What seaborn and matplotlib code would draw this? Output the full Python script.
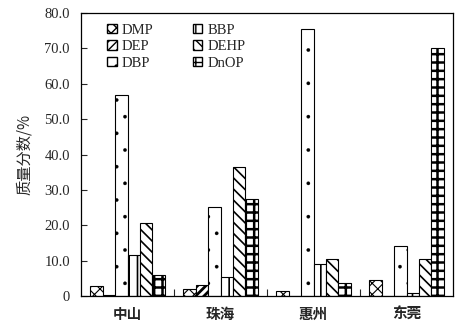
import matplotlib
matplotlib.use("Agg")
import matplotlib.pyplot as plt
import seaborn as sns
import pandas as pd
from matplotlib.patches import Patch
from matplotlib.ticker import FixedLocator

cities = ["中山", "珠海", "惠州", "东莞"]
compounds = ["DMP", "DEP", "DBP", "BBP", "DEHP", "DnOP"]
DMP = [2.8, 2.0, 1.3, 4.4]
DEP = [0.2, 3.0, 0.1, 0.1]
DBP = [56.7, 25.2, 75.5, 14.0]
BBP = [11.5, 5.3, 9.1, 0.8]
DEHP = [20.7, 36.5, 10.4, 10.6]
DnOP = [5.8, 27.5, 3.8, 70.2]
yticks = [0, 10, 20, 30, 40, 50, 60, 70, 80]
ytick_labels = ["0", "10.0", "20.0", "30.0", "40.0", "50.0", "60.0", "70.0", "80.0"]

series = {"DMP": DMP, "DEP": DEP, "DBP": DBP, "BBP": BBP, "DEHP": DEHP, "DnOP": DnOP}
rows = []
for comp in compounds:
    for c, v in zip(cities, series[comp]):
        rows.append({"city": c, "compound": comp, "value": v})
df = pd.DataFrame(rows)

sns.set_style("white")
plt.rcParams["font.family"] = ["Liberation Serif", "Noto Sans CJK SC", "DejaVu Sans"]

hatches = {"DMP": "xxx", "DEP": "////", "DBP": ".", "BBP": "||", "DEHP": "\\\\\\", "DnOP": "++"}
hlw = {"DMP": 0.8, "DEP": 2.0, "DBP": 0.2, "BBP": 1.2, "DEHP": 1.2, "DnOP": 1.8}

fig = plt.figure(figsize=(4.73, 3.25), dpi=100)
ax = fig.add_axes([81/473, 1-296/325, 372/473, 283/325])
sns.barplot(data=df, x="city", y="value", hue="compound", hue_order=compounds,
            order=cities, palette=["white"]*6, edgecolor="black", linewidth=0.8,
            width=0.8, ax=ax, legend=False)

for comp, cont in zip(compounds, ax.containers):
    for p in cont:
        p.set_hatch(hatches[comp])
        p.set_facecolor("white")
        p.set_edgecolor("black")
        try:
            p.set_hatch_linewidth(hlw[comp])
        except Exception:
            pass

ax.set_xlim(-0.5, 3.5)
ax.set_ylim(0, 80)
ax.set_yticks(yticks)
ax.set_yticklabels(ytick_labels, fontsize=10.5)
ax.set_xticks(range(4))
ax.set_xticklabels(cities, fontsize=10.5, fontweight="bold", family=["Noto Sans CJK SC"])
ax.xaxis.set_minor_locator(FixedLocator([0.5, 1.5, 2.5]))
ax.tick_params(axis="x", which="major", length=0, pad=7)
ax.tick_params(axis="x", which="minor", direction="in", length=5, width=0.8, bottom=True)
ax.tick_params(axis="y", direction="in", length=4, width=0.8, left=True, pad=8)
ax.set_xlabel("")
ax.set_ylabel("质量分数/%", fontsize=11, family=["Noto Sans CJK SC"], labelpad=8)
for s in ax.spines.values():
    s.set_color("black")
    s.set_linewidth(0.9)

handles = []
for comp in compounds:
    h = Patch(facecolor="white", edgecolor="black", hatch=hatches[comp], label=comp, linewidth=1.0)
    handles.append(h)
leg = ax.legend(handles=handles, ncol=2, loc="upper left", bbox_to_anchor=(0.07, 0.962),
                frameon=False, fontsize=10.5, handlelength=0.65, handleheight=0.65,
                handletextpad=0.35, columnspacing=2.7, labelspacing=0.24, borderpad=0,
                borderaxespad=0)

fig.savefig("out.png", dpi=100)
